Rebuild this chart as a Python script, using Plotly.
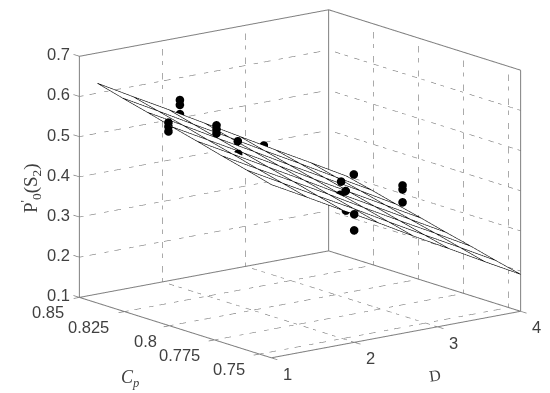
import plotly.graph_objects as go

# Axis limits and ticks
d_lim = [1, 4]
cp_lim = [0.7434, 0.85]
z_lim = [0.1, 0.7]
d_ticks = [1, 2, 3, 4]
cp_ticks = [0.75, 0.775, 0.8, 0.825, 0.85]
cp_ticktext = ["0.75", "0.775", "0.8", "0.825", "0.85"]
z_ticks = [0.1, 0.2, 0.3, 0.4, 0.5, 0.6, 0.7]

# Fitted surface
surf_d = [1, 1.43, 1.86, 2.29, 2.71, 3.14, 3.57, 4]
surf_cp = [0.7434, 0.7572, 0.771, 0.7848, 0.7986, 0.8124, 0.8262, 0.84]
surf_z = [
    [.531, .483, .434, .386, .337, .289, .240, .192],
    [.548, .499, .450, .402, .353, .304, .256, .207],
    [.564, .515, .467, .418, .369, .320, .272, .223],
    [.581, .532, .483, .434, .385, .336, .287, .238],
    [.597, .548, .499, .450, .401, .352, .303, .254],
    [.614, .565, .515, .466, .417, .368, .319, .269],
    [.630, .581, .531, .482, .433, .384, .334, .285],
    [.647, .597, .548, .498, .449, .399, .350, .300],
]

# Measured points
pt_d = [1, 1, 1, 2.10, 2.10, 2.10, 1.5, 1.5, 1.5, 1.8, 1.636, 3.11,
        3.5, 3.0, 2.8, 2.647, 3.556, 1.996, 1.996, 4, 4, 4]
pt_cp = [.8006, .8006, .8006, .845, .845, .845, .797, .797, .797, .799, .7912, .845,
         .813, .797, .7852, .7813, .82, .7434, .7434, .809, .809, .809]
pt_z = [.605, .595, .583, .556, .544, .521, .584, .574, .564, .530, .516, .404,
        .362, .386, .387, .389, .26, .419, .379, .321, .311, .279]

GRAY = "#7f7f7f"
GRID = "#777777"
TEXT = "#404040"
VIEW = (-0.586, -0.761, 0.24)   # direction to the viewer in box units
Z_BOX = 0.79
fig = go.Figure()

def seg(xs, ys, zs, color, width, dash="solid"):
    fig.add_trace(go.Scatter3d(x=xs, y=ys, z=zs, mode="lines", showlegend=False, hoverinfo="skip",
                               line=dict(color=color, width=width, dash=dash)))

d0, d1 = d_lim
c0, c1 = cp_lim
z0, z1 = z_lim
# dash-dot grid on the back walls and the floor
for d in d_ticks[1:]:
    seg([d, d], [c1, c1], [z0, z1], GRID, 1.2, "longdashdot")
    seg([d, d], [c0, c1], [z0, z0], GRID, 1.2, "longdashdot")
for c in cp_ticks[:-1]:
    seg([d1, d1], [c, c], [z0, z1], GRID, 1.2, "longdashdot")
    seg([d0, d1], [c, c], [z0, z0], GRID, 1.2, "longdashdot")
for z in z_ticks[1:-1]:
    seg([d0, d1], [c1, c1], [z, z], GRID, 1.2, "longdashdot")
    seg([d1, d1], [c0, c1], [z, z], GRID, 1.2, "longdashdot")
# frame
seg([d0, d0], [c1, c1], [z0, z1], GRAY, 2)
seg([d1, d1], [c1, c1], [z0, z1], GRAY, 2)
seg([d1, d1], [c0, c0], [z0, z1], GRAY, 2)
seg([d0, d1, d1], [c1, c1, c0], [z1, z1, z1], GRAY, 2)
seg([d0, d1, d1, d0, d0], [c1, c1, c0, c0, c1], [z0, z0, z0, z0, z0], GRAY, 2)
# tick marks
for z in z_ticks:
    seg([d0, d0], [c1, c1 + 0.0033], [z, z], GRAY, 1.5)
for c in cp_ticks:
    seg([d0, d0 - 0.07], [c, c], [z0, z0], GRAY, 1.5)
for d in d_ticks:
    seg([d, d], [c0, c0 - 0.0033], [z0, z0], GRAY, 1.5)

fig.add_trace(go.Surface(
    x=surf_d, y=surf_cp, z=surf_z, showscale=False, hoverinfo="skip",
    colorscale=[[0, "white"], [1, "white"]],
    lighting=dict(ambient=1, diffuse=0, specular=0, fresnel=0, roughness=1),
))
# mesh lines, moved slightly toward the viewer so the white surface does not cover them
T = 0.15
dd = VIEW[0] * T * (d1 - d0)
dc = VIEW[1] * T * (c1 - c0)
dz = VIEW[2] * T * (z1 - z0) / Z_BOX
for row_cp, row in zip(surf_cp, surf_z):
    seg([d + dd for d in surf_d], [row_cp + dc] * len(surf_d), [v + dz for v in row], "black", 1.2)
for j, col_d in enumerate(surf_d):
    seg([col_d + dd] * len(surf_cp), [c + dc for c in surf_cp], [row[j] + dz for row in surf_z], "black", 1.2)

fig.add_trace(go.Scatter3d(x=pt_d, y=pt_cp, z=pt_z, mode="markers", showlegend=False, hoverinfo="skip",
                           marker=dict(color="black", size=5, line=dict(width=0))))

axis = dict(showbackground=False, showgrid=False, zeroline=False, showspikes=False, title="",
            ticks="", showline=False, showticklabels=False)

def tick_label(d, c, z, text, dx, dy):
    return dict(x=d, y=c, z=z, text=text, showarrow=False, xshift=dx, yshift=-dy,
                font=dict(family="Liberation Sans", size=16.5, color=TEXT))

labels = []
for z in z_ticks:
    labels.append(tick_label(d0, c1, z, f"{z:.1f}", -21, -2))
for c, t, dx in zip(cp_ticks, cp_ticktext, [-30, -35, -24, -36, -31]):
    labels.append(tick_label(d0, c, z0, t, dx, 15))
for d in d_ticks:
    labels.append(tick_label(d, c0, z0, str(d), 16, 16))

# ranges are padded so that nothing on the box limit is clipped
d_pad, c_pad, z_pad = 0.3, 0.015, 0.04
d_range = [d0 - d_pad, d1 + d_pad]
c_range = [c0 - c_pad, c1 + c_pad]
z_range = [z0 - z_pad, z1 + z_pad]
k = 1.719
r = 4
cz = -0.0406
fig.update_layout(
    width=550, height=393, margin=dict(l=0, r=0, t=0, b=0), paper_bgcolor="white",
    font=dict(family="Liberation Sans", color=TEXT),
    scene=dict(
        domain=dict(x=[0.0764, 0.9855], y=[0.0687, 1]),
        xaxis=dict(axis, range=d_range, tickvals=d_ticks),
        yaxis=dict(axis, range=c_range, tickvals=cp_ticks),
        zaxis=dict(axis, range=z_range, tickvals=z_ticks),
        aspectmode="manual",
        aspectratio=dict(x=k * (d_range[1] - d_range[0]) / (d1 - d0),
                         y=k * (c_range[1] - c_range[0]) / (c1 - c0),
                         z=Z_BOX * k * (z_range[1] - z_range[0]) / (z1 - z0)),
        camera=dict(projection=dict(type="orthographic"),
                    eye=dict(x=VIEW[0] * r, y=VIEW[1] * r, z=VIEW[2] * r + cz),
                    up=dict(x=0, y=0, z=1), center=dict(x=0, y=0, z=cz)),
        annotations=labels,
    ),
    annotations=[
        dict(text="P<sup>'</sup><sub>0</sub>(S<sub>2</sub>)", x=22/550, y=1-180/393, xref="paper", yref="paper", showarrow=False,
             xanchor="center", yanchor="middle", textangle=-90,
             font=dict(family="Liberation Serif", size=19, color=TEXT)),
        dict(text="<i>C<sub>p</sub></i>", x=122/550, y=1-370/393, xref="paper", yref="paper", showarrow=False,
             xanchor="center", yanchor="middle",
             font=dict(family="Liberation Serif", size=18, color=TEXT)),
        dict(text="D", x=427/550, y=1-367/393, xref="paper", yref="paper", showarrow=False, textangle=-8,
             xanchor="center", yanchor="middle",
             font=dict(family="Liberation Serif", size=16, color=TEXT)),
    ],
)
fig.write_html("out.html")
